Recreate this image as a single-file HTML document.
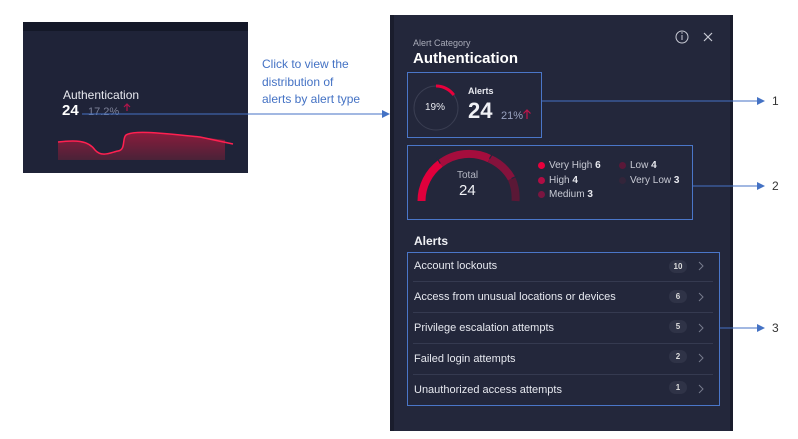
<!DOCTYPE html>
<html><head><meta charset="utf-8"><style>
body{margin:0;width:798px;height:439px;background:#fff;position:relative;overflow:hidden;font-family:"Liberation Sans",sans-serif}
.a{position:absolute}
.w{color:#e8e9ef}
.box{position:absolute;border:1px solid #4a76c8}
.row{position:absolute;left:414px;font-size:11px;color:#e6e8ef}
.sep{position:absolute;left:413px;width:300px;height:1px;background:#353a50}
.badge{position:absolute;left:669px;width:18px;height:13px;border-radius:7px;background:#2f3347;color:#ddd;font-size:8px;text-align:center;line-height:13px;font-weight:bold}
.lg{position:absolute;font-size:10px;color:#c8cad4}
.lg b{color:#e8e9ef}
.dot{display:inline-block;width:7px;height:7px;border-radius:50%;margin-right:4px;vertical-align:-0.5px}
</style></head><body>
<div class="a" style="left:23px;top:22px;width:225px;height:151px;background:#1f2338"></div>
<div class="a" style="left:23px;top:22px;width:225px;height:9px;background:#141828"></div>
<div class="a w" style="left:63px;top:88px;font-size:12px">Authentication</div>
<div class="a" style="left:62px;top:102px;font-size:15px;font-weight:bold;color:#fff">24</div>
<div class="a" style="left:88px;top:106px;font-size:11px;color:#7d8299">17.2%</div>
<svg class="a" style="left:0;top:0" width="798" height="439">
<defs><linearGradient id="g" x1="0" y1="0" x2="0" y2="1"><stop offset="0" stop-color="#8a1c3c"/><stop offset="1" stop-color="#4a2238"/></linearGradient></defs>
<path d="M58,142 C75,140 88,140 95,150 C102,158 112,152 118,151 C126,150 122,138 126,135 C134,130 160,133 200,137 L225,140 L225,160 L58,160Z" fill="url(#g)"/>
<path d="M58,142 C75,140 88,140 95,150 C102,158 112,152 118,151 C126,150 122,138 126,135 C134,130 160,133 200,137 L233,144" fill="none" stroke="#ff2050" stroke-width="1.5"/>
<path d="M127,111 L127,104 M124,107 L127,104 L130,107" stroke="#b0154a" stroke-width="1.2" fill="none"/>
<rect x="390" y="15" width="343" height="416" fill="#1a1d2d"/>
<rect x="394" y="15" width="336" height="416" fill="#23273b"/>
<line x1="82" y1="114" x2="382" y2="114" stroke="#4472c4" stroke-width="1"/>
<polygon points="390,114 382,110 382,118" fill="#4472c4"/>
<line x1="541" y1="101" x2="758" y2="101" stroke="#4472c4"/><polygon points="765,101 757,97 757,105" fill="#4472c4"/>
<line x1="692" y1="186" x2="758" y2="186" stroke="#4472c4"/><polygon points="765,186 757,182 757,190" fill="#4472c4"/>
<line x1="719" y1="328" x2="758" y2="328" stroke="#4472c4"/><polygon points="765,328 757,324 757,332" fill="#4472c4"/>
<circle cx="682" cy="37" r="6" fill="none" stroke="#c8cad4" stroke-width="1"/>
<line x1="682" y1="35" x2="682" y2="40" stroke="#c8cad4"/><circle cx="682" cy="33" r="0.7" fill="#c8cad4"/>
<path d="M704,33 L712,41 M712,33 L704,41" stroke="#c8cad4" stroke-width="1.2"/>
<circle cx="436" cy="108" r="22" fill="none" stroke="#3a3e52" stroke-width="1"/>
<path d="M436,86 A22,22 0 0 1 453.8,95" fill="none" stroke="#e8003c" stroke-width="3"/>
<path d="M527,119 L527,110 M523.5,113.5 L527,110 L530.5,113.5" stroke="#c0154a" stroke-width="1.2" fill="none"/>
<g fill="none" stroke-width="8">
<path d="M421.5,201 A47,47 0 0 1 440.3,163.6" stroke="#e0003c"/>
<path d="M440.3,163.6 A47,47 0 0 1 489.5,158.7" stroke="#a50d3d"/>
<path d="M489.5,158.7 A47,47 0 0 1 511.6,178.6" stroke="#85123c"/>
<path d="M511.6,178.6 A47,47 0 0 1 515.5,201" stroke="#5a1836"/>
</g>
<path d="M440.3,163.6 L437,158 M489.5,158.7 L493,153 M511.6,178.6 L517,176" stroke="#23273b" stroke-width="1.2"/>
<g stroke="#777b8c" stroke-width="1" fill="none">
<path d="M699,262 L703,266 L699,270"/><path d="M699,293 L703,297 L699,301"/><path d="M699,324 L703,328 L699,332"/><path d="M699,354 L703,358 L699,362"/><path d="M699,385 L703,389 L699,393"/>
</g>
</svg>
<div class="a" style="left:262px;top:56px;font-size:12px;line-height:17.5px;color:#4472c4">Click to view the<br>distribution of<br>alerts by alert type</div>
<div class="a" style="left:772px;top:94px;font-size:12px;color:#333">1</div>
<div class="a" style="left:772px;top:179px;font-size:12px;color:#333">2</div>
<div class="a" style="left:772px;top:321px;font-size:12px;color:#333">3</div>
<div class="a" style="left:413px;top:38px;font-size:9px;color:#a8abb8">Alert Category</div>
<div class="a" style="left:413px;top:50px;font-size:15px;color:#fff;font-weight:bold">Authentication</div>
<div class="box" style="left:407px;top:72px;width:133px;height:64px"></div>
<div class="a w" style="left:425px;top:102px;font-size:10px">19%</div>
<div class="a w" style="left:468px;top:86px;font-size:9px;font-weight:bold">Alerts</div>
<div class="a" style="left:468px;top:98px;font-size:22px;font-weight:bold;color:#f0f1f5">24</div>
<div class="a" style="left:501px;top:110px;font-size:11px;color:#9aa3c0">21%</div>
<div class="box" style="left:407px;top:145px;width:284px;height:73px"></div>
<div class="a" style="left:457px;top:170px;font-size:10px;color:#b5b8c4">Total</div>
<div class="a" style="left:459px;top:182px;font-size:15px;color:#f0f1f5">24</div>
<div class="lg" style="left:538px;top:160px"><span class="dot" style="background:#e8003c"></span>Very High <b>6</b></div>
<div class="lg" style="left:538px;top:175px"><span class="dot" style="background:#b00d44"></span>High <b>4</b></div>
<div class="lg" style="left:538px;top:189px"><span class="dot" style="background:#7a1540"></span>Medium <b>3</b></div>
<div class="lg" style="left:619px;top:160px"><span class="dot" style="background:#5a1838"></span>Low <b>4</b></div>
<div class="lg" style="left:619px;top:175px"><span class="dot" style="background:#33253a"></span>Very Low <b>3</b></div>
<div class="a" style="left:414px;top:234px;font-size:12px;color:#f0f1f5;font-weight:bold">Alerts</div>
<div class="box" style="left:407px;top:252px;width:311px;height:152px"></div>
<div class="row" style="top:260px">Account lockouts</div>
<div class="row" style="top:291px">Access from unusual locations or devices</div>
<div class="row" style="top:322px">Privilege escalation attempts</div>
<div class="row" style="top:353px">Failed login attempts</div>
<div class="row" style="top:384px">Unauthorized access attempts</div>
<div class="sep" style="top:281px"></div><div class="sep" style="top:312px"></div><div class="sep" style="top:343px"></div><div class="sep" style="top:374px"></div>
<div class="badge" style="top:260px">10</div><div class="badge" style="top:290px">6</div><div class="badge" style="top:320px">5</div><div class="badge" style="top:350px">2</div><div class="badge" style="top:381px">1</div>
</body></html>
